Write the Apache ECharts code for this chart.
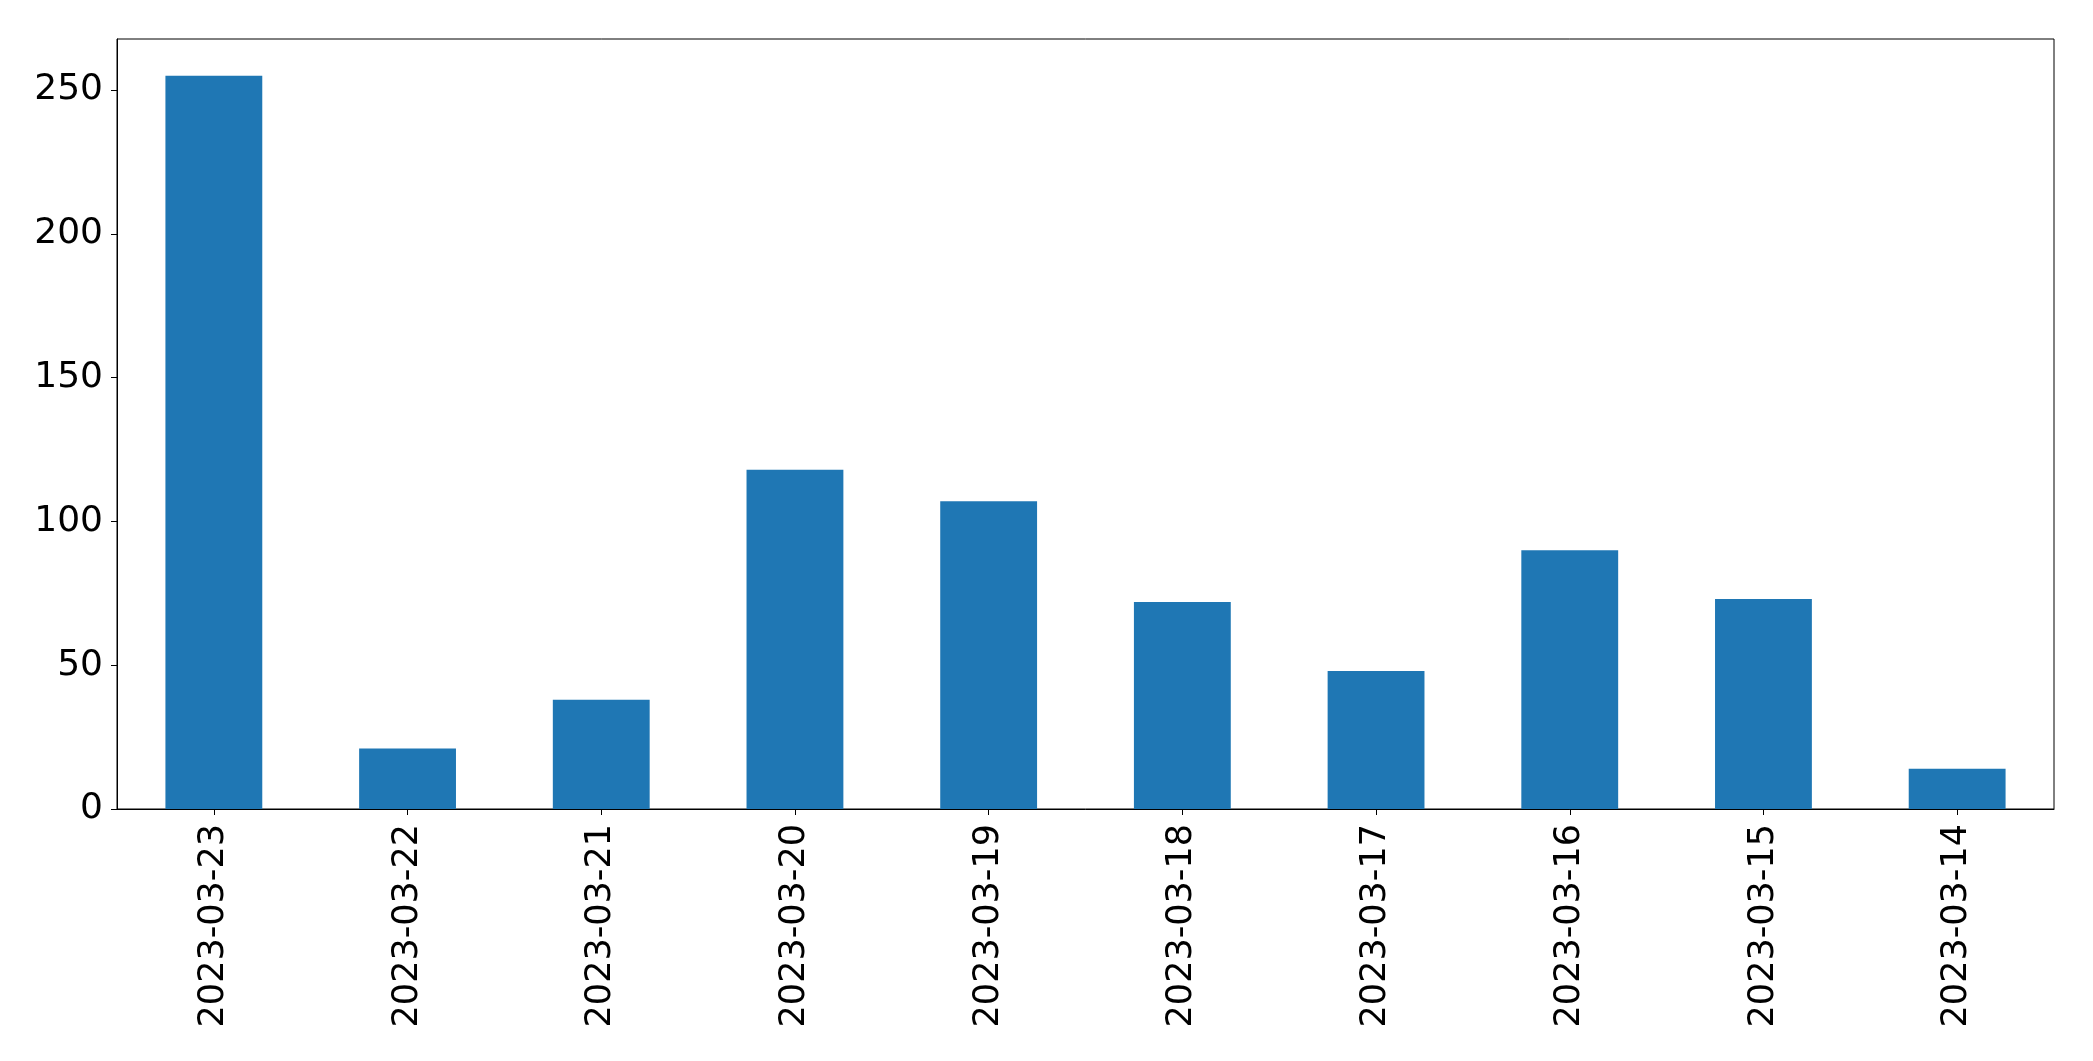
<!DOCTYPE html>
<html>
<head>
<meta charset="utf-8">
<script src="https://cdn.jsdelivr.net/npm/echarts@6/dist/echarts.min.js"></script>
<style>
html,body{margin:0;padding:0;background:#fff;}
#c{width:2093px;height:1061px;}
</style>
</head>
<body>
<div id="c"></div>
<script>
const categories = ['2023-03-23','2023-03-22','2023-03-21','2023-03-20','2023-03-19','2023-03-18','2023-03-17','2023-03-16','2023-03-15','2023-03-14'];
const values = [255, 21, 38, 118, 107, 72, 48, 90, 73, 14];
const yTicks = [0, 50, 100, 150, 200, 250];
const yMax = 267.75;

const chart = echarts.init(document.getElementById('c'), null, {renderer: 'canvas'});
const font = 'DejaVu Sans';
chart.setOption({
  animation: false,
  backgroundColor: '#ffffff',
  grid: {
    left: 117, right: 39, top: 39, bottom: 252,
    show: true, borderColor: '#000', borderWidth: 1, backgroundColor: 'transparent'
  },
  xAxis: {
    type: 'category',
    data: categories,
    axisLine: {show: true, lineStyle: {color: '#000', width: 1}},
    axisTick: {show: true, alignWithLabel: true, length: 6, lineStyle: {color: '#000'}},
    axisLabel: {rotate: 90, margin: 15, color: '#000', fontFamily: font, fontSize: 35, interval: 0},
    splitLine: {show: false}
  },
  yAxis: {
    type: 'value',
    min: 0,
    max: yMax,
    interval: 50,
    axisLine: {show: true, lineStyle: {color: '#000', width: 1}},
    axisTick: {show: true, length: 6, lineStyle: {color: '#000'}, customValues: yTicks},
    axisLabel: {margin: 14, color: '#000', fontFamily: font, fontSize: 36, customValues: yTicks, padding: [6, 0, 0, 0]},
    splitLine: {show: false}
  },
  series: [{
    type: 'bar',
    data: values,
    barWidth: '50%',
    itemStyle: {color: '#1f77b4'}
  }]
});
</script>
</body>
</html>
